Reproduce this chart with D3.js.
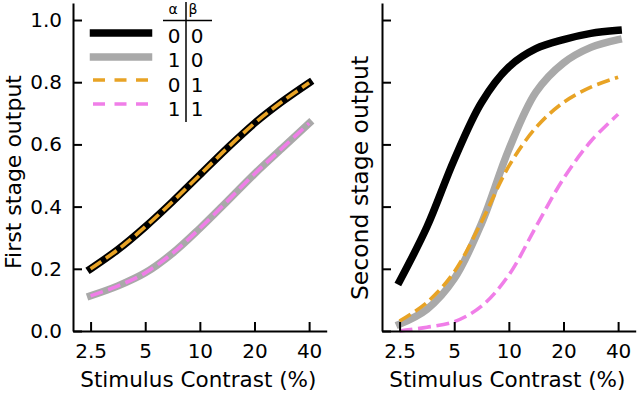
<!DOCTYPE html>
<html><head><meta charset="utf-8">
<script src="https://cdn.jsdelivr.net/npm/d3@7"></script>
<style>
body{margin:0;background:#fff}
svg{display:block;background:#fff}
text{font-family:"DejaVu Sans",sans-serif;fill:#000}
</style>
</head><body>
<svg id="chart" width="640" height="393"></svg>
<script>
// ---- data ----
const contrasts = [2.5, 3.54, 5, 7.07, 10, 14.1, 20, 28.3, 40];
const xTicks = [2.5, 5, 10, 20, 40];
const xTickLabels = ["2.5", "5", "10", "20", "40"];
const yTicks = [0, 0.2, 0.4, 0.6, 0.8, 1.0];
const yTickLabels = ["0.0", "0.2", "0.4", "0.6", "0.8", "1.0"];
const seriesKeys = ["a0b0", "a1b0", "a0b1", "a1b1"];
const alphaLabels = ["0", "1", "0", "1"];
const betaLabels = ["0", "0", "1", "1"];

// first stage output
const first_a0b0 = [0.200, 0.262, 0.335, 0.416, 0.502, 0.587, 0.668, 0.737, 0.798];
const first_a1b0 = [0.113, 0.145, 0.187, 0.250, 0.330, 0.416, 0.505, 0.587, 0.668];
const first_a0b1 = [0.200, 0.262, 0.335, 0.416, 0.502, 0.587, 0.668, 0.737, 0.798];
const first_a1b1 = [0.113, 0.145, 0.187, 0.250, 0.330, 0.416, 0.505, 0.587, 0.668];

// second stage output
const second_a0b0 = [0.160, 0.335, 0.551, 0.735, 0.849, 0.908, 0.937, 0.957, 0.967];
const second_a1b0 = [0.022, 0.070, 0.168, 0.346, 0.584, 0.768, 0.862, 0.912, 0.937];
const second_a0b1 = [0.032, 0.092, 0.190, 0.351, 0.530, 0.654, 0.735, 0.784, 0.816];
const second_a1b1 = [0.000, 0.012, 0.030, 0.080, 0.180, 0.335, 0.490, 0.610, 0.697];

// ---- styles ----
const styles = {
  a0b0: {color: "#000000", width: 7.5, dash: null},
  a1b0: {color: "#a9a9a9", width: 7.5, dash: null},
  a0b1: {color: "#e8a325", width: 3.6, dash: "13,5.6"},
  a1b1: {color: "#f07ee8", width: 3.6, dash: "13,5.6"}
};

const panels = [
  {x0: 73, x1: 326.7, label: "First stage output", labelX: 21, labelY: 172, labelSize: 22, showY: true,
   data: {a0b0: first_a0b0, a1b0: first_a1b0, a0b1: first_a0b1, a1b1: first_a1b1}},
  {x0: 382, x1: 635.7, label: "Second stage output", labelX: 368, labelY: 178, labelSize: 23.5, showY: false,
   data: {a0b0: second_a0b0, a1b0: second_a1b0, a0b1: second_a0b1, a1b1: second_a1b1}}
];

const svg = d3.select("#chart");
const yBottom = 331, yTop = 3;

panels.forEach(p => {
  const x = d3.scaleLog().domain([2, 50]).range([p.x0, p.x1]);
  const y = d3.scaleLinear().domain([0, 1.0547]).range([yBottom, yTop]);
  const g = svg.append("g");

  const line = d3.line()
    .x(d => x(d[0])).y(d => y(d[1]))
    .curve(d3.curveCatmullRom.alpha(0.5));

  seriesKeys.forEach(k => {
    const st = styles[k];
    const pts = contrasts.map((c, i) => [c, p.data[k][i]]);
    g.append("path")
      .attr("d", line(pts))
      .attr("fill", "none")
      .attr("stroke", st.color)
      .attr("stroke-width", st.width)
      .attr("stroke-linecap", st.dash ? "butt" : "square")
      .attr("stroke-dasharray", st.dash);
  });

  // axes
  const xa = g.append("g").attr("transform", `translate(0,${yBottom})`)
    .call(d3.axisBottom(x).tickValues(xTicks)
      .tickFormat((d, i) => xTickLabels[i])
      .tickSizeInner(-9).tickSizeOuter(0).tickPadding(12.6));
  const ya = g.append("g").attr("transform", `translate(${p.x0},0)`)
    .call(d3.axisLeft(y).tickValues(yTicks)
      .tickFormat((d, i) => p.showY ? yTickLabels[i] : "")
      .tickSizeInner(-9).tickSizeOuter(0).tickPadding(11));
  [xa, ya].forEach(a => {
    a.select(".domain").attr("stroke", "#000").attr("stroke-width", 2);
    a.selectAll(".tick line").attr("stroke", "#000").attr("stroke-width", 2);
    a.selectAll(".tick text").attr("font-size", 20).attr("font-family", "DejaVu Sans").attr("fill", "#000");
  });

  g.append("text")
    .attr("x", (p.x0 + p.x1) / 2 - 1.5).attr("y", 387)
    .attr("text-anchor", "middle").attr("font-size", 21.5)
    .text("Stimulus Contrast (%)");
  g.append("text")
    .attr("transform", `translate(${p.labelX},${p.labelY}) rotate(-90)`)
    .attr("text-anchor", "middle").attr("font-size", p.labelSize)
    .text(p.label);
});

// ---- legend ----
const leg = svg.append("g");
const rowY = [33, 57, 80, 104];
const rowBase = [43, 67, 91.5, 115.5];
seriesKeys.forEach((k, i) => {
  const st = styles[k];
  leg.append("line")
    .attr("x1", st.dash ? 93 : 93.5).attr("x2", st.dash ? 149 : 148.5)
    .attr("y1", rowY[i]).attr("y2", rowY[i])
    .attr("stroke", st.color).attr("stroke-width", st.width)
    .attr("stroke-linecap", st.dash ? "butt" : "square")
    .attr("stroke-dasharray", st.dash ? "12,9.5" : null);
  leg.append("text").attr("x", 174).attr("y", rowBase[i])
    .attr("text-anchor", "middle").attr("font-size", 20).text(alphaLabels[i]);
  leg.append("text").attr("x", 197).attr("y", rowBase[i])
    .attr("text-anchor", "middle").attr("font-size", 20).text(betaLabels[i]);
});
leg.append("text").attr("x", 173).attr("y", 14).attr("text-anchor", "middle")
  .attr("font-size", 14).text("α");
leg.append("text").attr("x", 193).attr("y", 14).attr("text-anchor", "middle")
  .attr("font-size", 14).text("β");
leg.append("line").attr("x1", 163).attr("x2", 212).attr("y1", 20.5).attr("y2", 20.5)
  .attr("stroke", "#000").attr("stroke-width", 1.5);
leg.append("line").attr("x1", 186).attr("x2", 186).attr("y1", 2).attr("y2", 122)
  .attr("stroke", "#000").attr("stroke-width", 1.5);
</script>
</body></html>
